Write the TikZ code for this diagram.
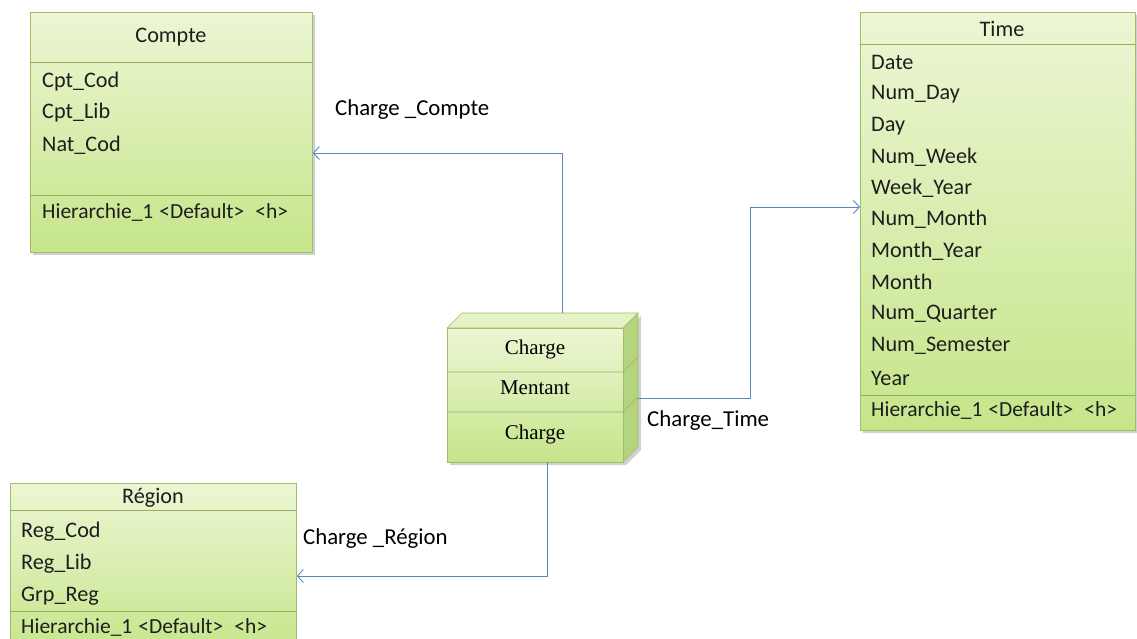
\documentclass[tikz,border=0pt]{standalone}
\usepackage{fontspec}
\usetikzlibrary{arrows.meta,calc}
\newfontfamily\calfont{Carlito}
\newfontfamily\tmsfont{Liberation Serif}
\definecolor{gtop}{RGB}{236,246,212}
\definecolor{gbot}{RGB}{198,229,138}
\definecolor{boxborder}{RGB}{160,190,100}
\definecolor{sepline}{RGB}{150,175,95}
\definecolor{linkblue}{RGB}{90,135,190}
\definecolor{cubetop}{RGB}{228,242,198}
\definecolor{cubeside}{RGB}{180,212,125}
\definecolor{txt}{RGB}{30,30,30}
\newcommand{\hierline}{Hierarchie\_1\hspace{6pt}<Default>\hspace{11pt}<h>}
\tikzset{
  box/.style={draw=boxborder, line width=0.8pt, top color=gtop, bottom color=gbot, inner sep=0pt},
  shadowbox/.style={fill=black, opacity=0.18, draw=none},
  sep/.style={draw=sepline, line width=0.8pt},
  attr/.style={font=\calfont\fontsize{22.2}{26}\selectfont, text=txt, anchor=west, inner sep=0pt},
  hier/.style={font=\calfont\fontsize{21.5}{26}\selectfont, text=txt, anchor=west, inner sep=0pt},
  ttl/.style={font=\calfont\fontsize{22.2}{26}\selectfont, text=txt, inner sep=0pt},
  lbl/.style={font=\calfont\fontsize{22.8}{27}\selectfont, text=black, anchor=west, inner sep=0pt},
  cubetxt/.style={font=\tmsfont\fontsize{21}{25}\selectfont, text=black, inner sep=0pt},
  conn/.style={draw=linkblue, line width=0.9pt, -{Straight Barb[length=6pt,width=13pt,line width=0.9pt]}},
}
\begin{document}
\begin{tikzpicture}[x=1pt,y=-1pt]
\useasboundingbox (0,0) rectangle (1137,639);
\clip (0,0) rectangle (1137,639);
\fill[white] (0,0) rectangle (1137,639);

% ---------- Compte ----------
\fill[shadowbox] (33,15) rectangle (315,255);
\node[box, minimum width=282pt, minimum height=240pt, anchor=north west] (compte) at (30,12) {};
\draw[sep] (30,62) -- (312,62);
\draw[sep] (30,195) -- (312,195);
\node[ttl] (compteT) at (171,37) {Compte};
\node[attr] (c1) at (42,82) {Cpt\_Cod};
\node[attr] (c2) at (42,113) {Cpt\_Lib};
\node[attr] (c3) at (42,145) {Nat\_Cod};
\node[hier] (c4) at (42,212) {\hierline};

% ---------- Time ----------
\fill[shadowbox] (863,15) rectangle (1140,433);
\node[box, minimum width=275pt, minimum height=418pt, anchor=north west] (time) at (860,12) {};
\draw[sep] (860,44) -- (1135,44);
\draw[sep] (860,395) -- (1135,395);
\node[ttl] (timeT) at (1002,29) {Time};
\node[attr] (t1) at (871,62) {Date};
\node[attr] (t2) at (871,94) {Num\_Day};
\node[attr] (t3) at (871,126) {Day};
\node[attr] (t4) at (871,157) {Num\_Week};
\node[attr] (t5) at (871,188) {Week\_Year};
\node[attr] (t6) at (871,219) {Num\_Month};
\node[attr] (t7) at (871,251) {Month\_Year};
\node[attr] (t8) at (871,282) {Month};
\node[attr] (t9) at (871,314) {Num\_Quarter};
\node[attr] (t10) at (871,346) {Num\_Semester};
\node[attr] (t11) at (871,378) {Year};
\node[hier] (t12) at (871,410) {\hierline};

% ---------- Region ----------
\node[box, minimum width=286pt, minimum height=170pt, anchor=north west] (region) at (10,483) {};
\draw[sep] (10,510) -- (296,510);
\draw[sep] (10,611) -- (296,611);
\node[ttl] (regionT) at (153,498) {Région};
\node[attr] (r1) at (21,532) {Reg\_Cod};
\node[attr] (r2) at (21,564) {Reg\_Lib};
\node[attr] (r3) at (21,596) {Grp\_Reg};
\node[hier] (r4) at (21,627) {\hierline};

% ---------- Fact cube ----------
\fill[shadowbox] (450,331) -- (626,331) -- (641,316) -- (641,450) -- (626,465) -- (450,465) -- cycle;
\filldraw[fill=cubetop, draw=boxborder, line width=0.6pt] (447,328) -- (462,313) -- (638,313) -- (623,328) -- cycle;
\filldraw[fill=cubeside, draw=boxborder, line width=0.6pt] (623,328) -- (638,313) -- (638,447) -- (623,462) -- cycle;
\node[box, minimum width=176pt, minimum height=134pt, anchor=north west, line width=0.6pt] (fact) at (447,328) {};
\draw[sep, line width=0.6pt] (447,372) -- (623,372) -- (638,357);
\draw[sep, line width=0.6pt] (447,412) -- (623,412) -- (638,397);
\node[cubetxt] (f1) at (535,349) {Charge};
\node[cubetxt] (f2) at (535,388) {Mentant};
\node[cubetxt] (f3) at (535,434) {Charge};

% ---------- connectors ----------
\coordinate (sCompte) at (562,313);
\coordinate (inCompte) at (compte.east |- 0,153);
\draw[conn] (sCompte) |- (inCompte);

\coordinate (sTime) at (638,398);
\coordinate (bendTime) at (750,398);
\coordinate (inTime) at (time.west |- 0,207);
\draw[conn] (sTime) -- (bendTime) |- (inTime);

\coordinate (sRegion) at (547,462);
\coordinate (inRegion) at (region.east |- 0,576);
\draw[conn] (sRegion) |- (inRegion);

% ---------- labels ----------
\node[lbl] (lCompte) at (335,110) {Charge \_Compte};
\node[lbl] (lTime) at (647,421) {Charge\_Time};
\node[lbl] (lRegion) at (303,539) {Charge \_Région};
\end{tikzpicture}
\end{document}
